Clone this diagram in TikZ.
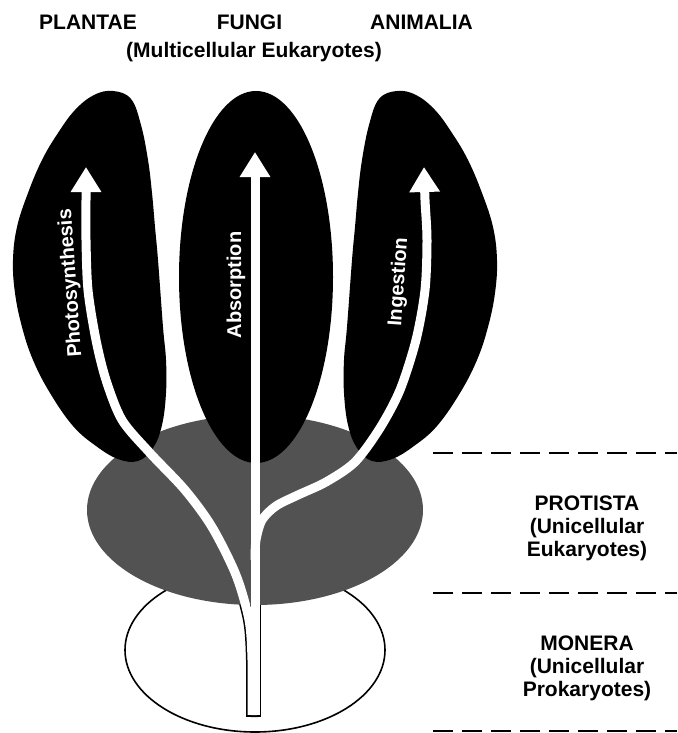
\documentclass[tikz,border=0pt]{standalone}
\usepackage{fontspec}
\setmainfont{Liberation Sans}
\usetikzlibrary{arrows.meta}
\tikzset{
  leaf/.style={fill=black, draw=none},
  stemw/.style={draw=white, line width=9pt},
  stemb/.style={draw=black, line width=12pt},
  arrowtip/.style={-{Triangle[width=29pt,length=25pt]}},
  title/.style={font=\fontsize{21}{24}\selectfont\bfseries, inner sep=0pt, anchor=base},
  inlabel/.style={text=white, font=\fontsize{20}{24}\selectfont\bfseries, inner sep=0pt},
  divider/.style={line width=2.3pt, dash pattern=on 20pt off 9pt},
}
\def\leafpts{(113,91) (131,99) (141,125) (148,160) (152,193) (155,227) (158,260) (163,327) (166,360) (166,393) (162,425) (153,448) (138,461) (118,459) (96,446) (73,426) (50,393) (33,360) (22,327) (15,293) (13,260) (17,227) (28,193) (42,160) (58,133) (75,110) (94,95)}
\begin{document}
\begin{tikzpicture}[x=1pt, y=-1pt]
\useasboundingbox (0,0) rectangle (677,733);
% named positions
\coordinate (moneraC) at (255,650);
\coordinate (protistaC) at (255,510);
\coordinate (fungiC) at (256,277);
\coordinate (stemF) at (255,715);
\coordinate (stemFb) at (255,717);
\coordinate (tipF) at (255,152);
\coordinate (branchF) at (255,560);
% Monera
\draw[line width=1.6pt, fill=white] (moneraC) ellipse [x radius=130, y radius=82];
% stem outline inside monera
\begin{scope}
  \clip (moneraC) ellipse [x radius=129, y radius=81];
  \draw[stemb] plot[smooth] coordinates {(252,717) (252,660) (249,620) (236,575) (212,527) (185,490) (150,453) (122,420) (106,380) (96,340) (88,290) (86,240) (86,200)};
  \draw[stemb] (stemFb) -- (branchF);
\end{scope}
% Protista
\fill[black!68] (protistaC) ellipse [x radius=168, y radius=95];
% leaves
\fill[leaf] plot[smooth cycle, tension=0.65] coordinates {\leafpts};
\fill[leaf] (fungiC) ellipse [x radius=77, y radius=186];
\begin{scope}[xshift=510pt, xscale=-1]
\fill[leaf] plot[smooth cycle, tension=0.65] coordinates {\leafpts};
\end{scope}
% white branches
\draw[stemw, arrowtip, white] plot[smooth] coordinates {(252,715) (252,660) (249,620) (236,575) (212,527) (185,490) (150,453) (122,420) (106,380) (96,340) (88,290) (86,240) (86,200) (86,167)};
\draw[stemw, arrowtip, white] (stemF) -- (tipF);
\draw[stemw, arrowtip, white] plot[smooth] coordinates {(255,560) (256,540) (262,520) (276,506) (298,495) (326,482) (355,462) (380,428) (400,390) (416,340) (425,290) (427,240) (425,200) (424,167)};
% labels on branches
\node[inlabel, rotate=94] (photo) at (71,283) {Photosynthesis};
\node[inlabel, rotate=90] (absorb) at (236,285) {Absorption};
\node[inlabel, rotate=86] (ingest) at (399,282) {Ingestion};
% titles
\node[title] (plantae) at (88,30) {PLANTAE};
\node[title] (fungi) at (249.5,30) {FUNGI};
\node[title] (animalia) at (421.5,30) {ANIMALIA};
\node[title] (multi) at (254,58) {(Multicellular Eukaryotes)};
% dividers
\coordinate (d1a) at (433,453); \coordinate (d1b) at (677,453);
\coordinate (d2a) at (433,593); \coordinate (d2b) at (677,593);
\coordinate (d3a) at (433,731); \coordinate (d3b) at (677,731);
\draw[divider] (d1a) -- (d1b);
\draw[divider] (d2a) -- (d2b);
\draw[divider] (d3a) -- (d3b);
% kingdom labels
\node[title] (prot1) at (587,510) {PROTISTA};
\node[title] (prot2) at (587,533) {(Unicellular};
\node[title] (prot3) at (587,556) {Eukaryotes)};
\node[title] (mon1) at (587,650) {MONERA};
\node[title] (mon2) at (587,673) {(Unicellular};
\node[title] (mon3) at (587,696) {Prokaryotes)};
\end{tikzpicture}
\end{document}
